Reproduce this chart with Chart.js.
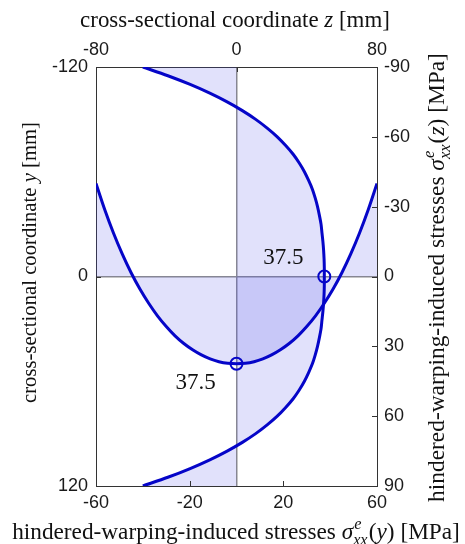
<!DOCTYPE html>
<html><head><meta charset="utf-8">
<script src="https://cdn.jsdelivr.net/npm/chart.js@4.4.0/dist/chart.umd.min.js"></script>
<style>html,body{margin:0;padding:0;background:#fff;}</style>
</head><body>
<canvas id="c" width="465" height="544"></canvas>
<script>
// ---- data ----
const yCoord = [-120,-115,-110,-105,-100,-95,-90,-85,-80,-75,-70,-65,-60,-55,-50,-45,-40,-35,-30,-25,-20,-15,-10,-5,0,
                5,10,15,20,25,30,35,40,45,50,55,60,65,70,75,80,85,90,95,100,105,110,115,120];
const sigmaY = [-40,-29.3,-19.8,-11.4,-4.0,2.5,8.2,13.1,17.4,21.0,24.2,26.8,29.0,30.8,32.4,33.6,34.6,35.4,36.1,36.5,36.9,37.2,37.4,37.5,37.5,
                37.5,37.4,37.2,36.9,36.5,36.1,35.4,34.6,33.6,32.4,30.8,29.0,26.8,24.2,21.0,17.4,13.1,8.2,2.5,-4.0,-11.4,-19.8,-29.3,-40];
const zCoord = [-80,-75,-70,-65,-60,-55,-50,-45,-40,-35,-30,-25,-20,-15,-10,-5,0,5,10,15,20,25,30,35,40,45,50,55,60,65,70,75,80];
const sigmaZ = [-40,-28.7,-18.6,-9.6,-1.6,5.4,11.5,16.9,21.5,25.5,28.8,31.5,33.7,35.4,36.6,37.3,37.5,
                37.3,36.6,35.4,33.7,31.5,28.8,25.5,21.5,16.9,11.5,5.4,-1.6,-9.6,-18.6,-28.7,-40];
const bottomTicks = [-60,-20,20,60];
const topTicks = [-80,0,80];
const leftTicks = [-120,0,120];
const rightTicks = [-90,-60,-30,0,30,60,90];
const markerSigmaY = [{sigma: 37.5, y: 0}];
const markerSigmaZ = [{z: 0, sigma: 37.5}];
const markerLabels = ['37.5','37.5'];

const LINE = '#0505c8';
const FILL = 'rgba(80,80,230,0.17)';
const AXIS = '#333333';
const SERIF = '"Liberation Serif","DejaVu Serif",serif';
const SANS = '"Liberation Sans",Arial,sans-serif';

function fixTicks(list){ return function(scale){ scale.ticks = list.map(v=>({value:v})); }; }
function zeroGrid(c){ return (c.tick && c.tick.value === 0) ? '#8c8c8c' : 'rgba(0,0,0,0)'; }

const fillPlugin = {
  id:'fills',
  beforeDatasetsDraw(chart){
    const ctx = chart.ctx, s = chart.scales, a = chart.chartArea;
    ctx.save();
    ctx.beginPath(); ctx.rect(a.left,a.top,a.right-a.left,a.bottom-a.top); ctx.clip();
    ctx.fillStyle = FILL;
    // sigma(y) to sigma = 0
    const x0 = s.xB.getPixelForValue(0);
    ctx.beginPath();
    ctx.moveTo(x0, s.yL.getPixelForValue(yCoord[0]));
    yCoord.forEach((y,i)=>ctx.lineTo(s.xB.getPixelForValue(sigmaY[i]), s.yL.getPixelForValue(y)));
    ctx.lineTo(x0, s.yL.getPixelForValue(yCoord[yCoord.length-1]));
    ctx.closePath(); ctx.fill();
    // sigma(z) to sigma = 0
    const y0 = s.yR.getPixelForValue(0);
    ctx.beginPath();
    ctx.moveTo(s.xT.getPixelForValue(zCoord[0]), y0);
    zCoord.forEach((z,i)=>ctx.lineTo(s.xT.getPixelForValue(z), s.yR.getPixelForValue(sigmaZ[i])));
    ctx.lineTo(s.xT.getPixelForValue(zCoord[zCoord.length-1]), y0);
    ctx.closePath(); ctx.fill();
    ctx.restore();
  }
};

function drawRich(ctx, parts, cx, baseY, rot, targetW){
  function w(S){
    let W = 0;
    parts.forEach(p=>{
      if (p.stack){
        ctx.font = `italic ${0.7*S}px ${SERIF}`;
        W += Math.max(ctx.measureText(p.sup).width, ctx.measureText(p.sub).width) + 0.05*S;
      } else {
        ctx.font = `${p.it?'italic ':''}${S}px ${SERIF}`;
        W += ctx.measureText(p.t).width;
      }
    });
    return W;
  }
  const S = 20*targetW/w(20);
  const W = w(S);
  ctx.save();
  ctx.translate(cx, baseY);
  ctx.rotate(rot);
  ctx.fillStyle = '#111';
  ctx.textBaseline = 'alphabetic';
  ctx.textAlign = 'left';
  let x = -W/2;
  parts.forEach(p=>{
    if (p.stack){
      ctx.font = `italic ${0.7*S}px ${SERIF}`;
      ctx.fillText(p.sup, x+0.05*S, -0.42*S);
      ctx.fillText(p.sub, x, 0.25*S);
      x += Math.max(ctx.measureText(p.sup).width, ctx.measureText(p.sub).width) + 0.05*S;
    } else {
      ctx.font = `${p.it?'italic ':''}${S}px ${SERIF}`;
      ctx.fillText(p.t, x, 0);
      x += ctx.measureText(p.t).width;
    }
  });
  ctx.restore();
}

const decoPlugin = {
  id:'deco',
  afterDraw(chart){
    const ctx = chart.ctx, s = chart.scales, a = chart.chartArea;
    // inward tick marks
    ctx.save();
    ctx.strokeStyle = AXIS; ctx.lineWidth = 1;
    ctx.beginPath();
    bottomTicks.forEach(v=>{const x=Math.round(s.xB.getPixelForValue(v))+0.5; ctx.moveTo(x,a.bottom); ctx.lineTo(x,a.bottom-5);});
    topTicks.forEach(v=>{const x=Math.round(s.xT.getPixelForValue(v))+0.5; ctx.moveTo(x,a.top); ctx.lineTo(x,a.top+5);});
    leftTicks.forEach(v=>{const y=Math.round(s.yL.getPixelForValue(v))+0.5; ctx.moveTo(a.left,y); ctx.lineTo(a.left+5,y);});
    rightTicks.forEach(v=>{const y=Math.round(s.yR.getPixelForValue(v))+0.5; ctx.moveTo(a.right,y); ctx.lineTo(a.right-5,y);});
    ctx.stroke();
    // marker labels
    ctx.fillStyle = '#111';
    ctx.font = `23px ${SERIF}`;
    ctx.textAlign = 'center'; ctx.textBaseline = 'middle';
    const m1x = s.xB.getPixelForValue(markerSigmaY[0].sigma), m1y = s.yL.getPixelForValue(markerSigmaY[0].y);
    ctx.fillText(markerLabels[0], m1x-41, m1y-19);
    const m2x = s.xT.getPixelForValue(markerSigmaZ[0].z), m2y = s.yR.getPixelForValue(markerSigmaZ[0].sigma);
    ctx.fillText(markerLabels[1], m2x-41, m2y+19);
    ctx.restore();
    // axis titles
    drawRich(ctx, [{t:'cross-sectional coordinate '},{t:'z',it:true},{t:' [mm]'}], 235, 27, 0, 310);
    drawRich(ctx, [{t:'cross-sectional coordinate '},{t:'y',it:true},{t:' [mm]'}], 36, 262.5, -Math.PI/2, 281);
    drawRich(ctx, [{t:'hindered-warping-induced stresses '},{t:'σ',it:true},{stack:true,sup:'e',sub:'xx'},{t:'('},{t:'y',it:true},{t:') [MPa]'}], 236, 539, 0, 448);
    drawRich(ctx, [{t:'hindered-warping-induced stresses '},{t:'σ',it:true},{stack:true,sup:'e',sub:'xx'},{t:'('},{t:'z',it:true},{t:') [MPa]'}], 444, 277.5, -Math.PI/2, 449);
  }
};

const tickFont = {family: SANS, size: 18};
new Chart(document.getElementById('c'), {
  type: 'scatter',
  data: {
    datasets: [
      {data: yCoord.map((y,i)=>({x: sigmaY[i], y})), xAxisID:'xB', yAxisID:'yL', showLine:true, borderColor:LINE, borderWidth:3, pointRadius:0, tension:0.3, fill:false},
      {data: zCoord.map((z,i)=>({x: z, y: sigmaZ[i]})), xAxisID:'xT', yAxisID:'yR', showLine:true, borderColor:LINE, borderWidth:3, pointRadius:0, tension:0.3, fill:false},
      {data: markerSigmaY.map(m=>({x:m.sigma, y:m.y})), xAxisID:'xB', yAxisID:'yL', showLine:false, pointRadius:6, pointBorderWidth:2, pointBorderColor:LINE, pointBackgroundColor:'rgba(0,0,0,0)'},
      {data: markerSigmaZ.map(m=>({x:m.z, y:m.sigma})), xAxisID:'xT', yAxisID:'yR', showLine:false, pointRadius:6, pointBorderWidth:2, pointBorderColor:LINE, pointBackgroundColor:'rgba(0,0,0,0)'}
    ]
  },
  options: {
    responsive:false, animation:false, devicePixelRatio:1,
    layout:{padding:0},
    plugins:{legend:{display:false}, tooltip:{enabled:false}},
    scales:{
      xB:{type:'linear', position:'bottom', min:-60, max:60, afterBuildTicks:fixTicks(bottomTicks),
          afterFit(sc){sc.height=58;},
          grid:{display:false, drawTicks:false}, border:{display:true, color:AXIS, width:1},
          ticks:{font:tickFont, color:'#1a1a1a', padding:6, maxRotation:0}},
      xT:{type:'linear', position:'top', min:-80, max:80, afterBuildTicks:fixTicks(topTicks),
          afterFit(sc){sc.height=67;},
          grid:{display:true, drawTicks:false, color:zeroGrid, lineWidth:1.5}, border:{display:true, color:AXIS, width:1},
          ticks:{font:tickFont, color:'#1a1a1a', padding:6, maxRotation:0}},
      yL:{type:'linear', position:'left', min:-120, max:120, reverse:true, afterBuildTicks:fixTicks(leftTicks),
          afterFit(sc){sc.width=96;},
          grid:{display:true, drawTicks:false, color:zeroGrid, lineWidth:1.5}, border:{display:true, color:AXIS, width:1},
          ticks:{font:tickFont, color:'#1a1a1a', padding:8}},
      yR:{type:'linear', position:'right', min:-90, max:90, reverse:true, afterBuildTicks:fixTicks(rightTicks),
          afterFit(sc){sc.width=88;},
          grid:{display:false, drawTicks:false}, border:{display:true, color:AXIS, width:1},
          ticks:{font:tickFont, color:'#1a1a1a', padding:7}}
    }
  },
  plugins:[fillPlugin, decoPlugin]
});
</script>
</body></html>
